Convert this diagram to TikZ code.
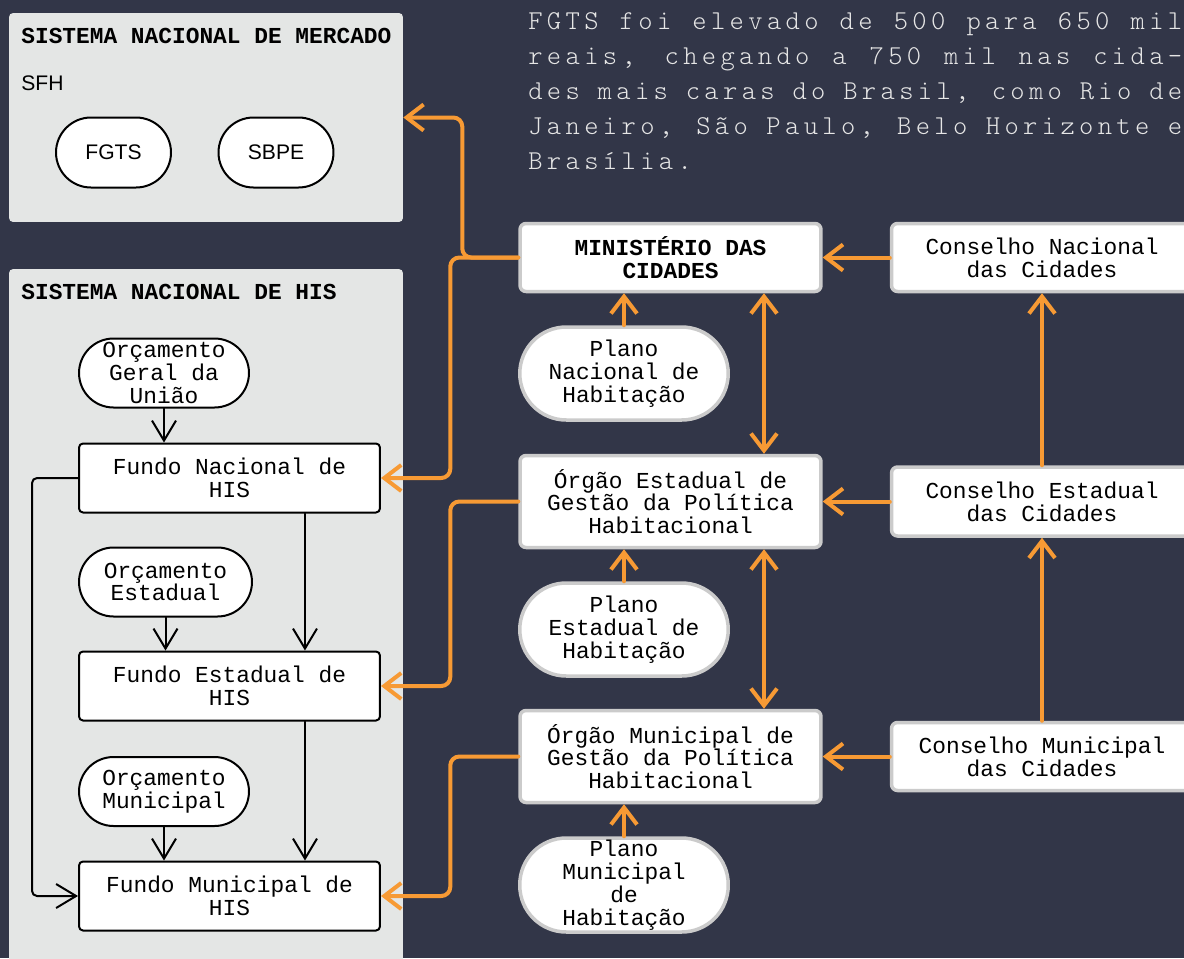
\documentclass[tikz,border=0pt]{standalone}
\usepackage{fontspec}
\usetikzlibrary{arrows.meta,calc,positioning}
\newfontfamily\boxfont{Liberation Mono}
\newfontfamily\sanslabel{Liberation Sans}
\newfontfamily\notefont[LetterSpace=16]{lmmonolt10-regular.otf}
\newcommand\noteline[1]{\makebox[13.08cm][s]{\spaceskip=0pt plus 1fil\relax #1}}
\definecolor{nightbg}{HTML}{323648}
\definecolor{panelgray}{HTML}{E4E6E5}
\definecolor{linkorange}{HTML}{F79A34}
\definecolor{rimgray}{HTML}{CBCBCB}
\definecolor{notewhite}{HTML}{E6E6E6}

\begin{document}
\begin{tikzpicture}[x=0.02cm,y=-0.02cm,line cap=round,line join=round,
    notetext/.style={anchor=base west,inner sep=0pt,text=notewhite,
      font=\notefont\fontsize{15.5}{15.5}\selectfont},
    boxtext/.style={font=\boxfont\fontsize{13}{13}\selectfont,align=center,inner sep=0pt},
    panel/.style={fill=panelgray,rounded corners=0.08cm,inner sep=0pt,minimum width=7.88cm},
    paneltitle/.style={font=\boxfont\bfseries\fontsize{13}{13}\selectfont,anchor=base west,inner sep=0pt},
    fundbox/.style={boxtext,draw=black,line width=0.04cm,fill=white,rounded corners=0.08cm,
      minimum width=6.02cm,minimum height=1.38cm},
    budget/.style={boxtext,draw=black,line width=0.04cm,fill=white,rounded corners=0.69cm,
      minimum height=1.38cm},
    mercbox/.style={draw=black,line width=0.04cm,fill=white,rounded corners=0.7cm,inner sep=0pt,
      minimum width=2.3cm,minimum height=1.4cm,font=\sanslabel\fontsize{12}{12}\selectfont},
    organ/.style={boxtext,draw=rimgray,line width=0.07cm,fill=white,rounded corners=0.12cm,
      minimum width=6.02cm},
    plan/.style={boxtext,draw=rimgray,line width=0.07cm,fill=white,rounded corners=0.93cm,
      minimum width=4.17cm,minimum height=1.86cm},
    orangelink/.style={draw=linkorange,line width=0.08cm,rounded corners=0.18cm,
      -{Straight Barb[length=0.34cm,width=0.52cm]}},
    blacklink/.style={draw=black,line width=0.04cm,rounded corners=0.1cm,
      -{Straight Barb[length=0.4cm,width=0.48cm]}}]

  \useasboundingbox (0,0) rectangle (1184,958);
  \clip (0,0) rectangle (1184,958);
  \fill[nightbg] (0,0) rectangle (1184,958);

  % justified text running in from above
  \foreach \yy/\txt in {29/{FGTS foi elevado de 500 para 650 mil},
      64/{reais, chegando a 750 mil nas cida-},
      99/{des mais caras do Brasil, como Rio de},
      134/{Janeiro, São Paulo, Belo Horizonte e}}{
    \node[notetext] (note\yy) at (528,\yy) {\noteline{\txt}};
  }
  \node[notetext] (note169) at (528,169) {Brasília.};

  % market system
  \node[panel,minimum height=4.18cm] (mercado) at (206,117.5) {};
  \node[paneltitle] (mercadotitle) at (21,43) {SISTEMA NACIONAL DE MERCADO};
  \node[anchor=base west,inner sep=0pt,font=\sanslabel\fontsize{12}{12}\selectfont]
    (sfh) at (21,90) {SFH};
  \node[mercbox] (fgts) at (113.5,152.5) {FGTS};
  \node[mercbox] (sbpe) at (276,152.5) {SBPE};

  % social housing system
  \node[panel,minimum height=14.4cm] (his) at (206,629) {};
  \node[paneltitle] (histitle) at (21,299) {SISTEMA NACIONAL DE HIS};
  \node[budget,minimum width=3.4cm] (orcuniao) at (164,373) {Orçamento\\Geral da\\União};
  \node[fundbox] (fundnac) at (229.5,478) {Fundo Nacional de\\HIS};
  \node[budget,minimum width=3.46cm] (orcest) at (165.5,582) {Orçamento\\Estadual};
  \node[fundbox] (fundest) at (229.5,686) {Fundo Estadual de\\HIS};
  \node[budget,minimum width=3.4cm] (orcmun) at (164,791.5) {Orçamento\\Municipal};
  \node[fundbox] (fundmun) at (229.5,896) {Fundo Municipal de\\HIS};

  % federal, state and municipal bodies
  \node[organ,minimum height=1.36cm,font=\boxfont\bfseries\fontsize{13}{13}\selectfont]
    (ministerio) at (670.5,257.5) {MINISTÉRIO DAS\\CIDADES};
  \node[organ,minimum height=1.36cm] (consnac) at (1042,257.5) {Conselho Nacional\\das Cidades};
  \node[plan] (plannac) at (624,373.5) {Plano\\Nacional de\\Habitação};
  \node[organ,minimum height=1.84cm] (orgest) at (670.5,501.5) {Órgão Estadual de\\Gestão da Política\\Habitacional};
  \node[organ,minimum height=1.38cm] (consest) at (1042,501.5) {Conselho Estadual\\das Cidades};
  \node[plan] (planest) at (624,629.5) {Plano\\Estadual de\\Habitação};
  \node[organ,minimum height=1.84cm] (orgmun) at (670.5,756.5) {Órgão Municipal de\\Gestão da Política\\Habitacional};
  \node[organ,minimum height=1.36cm] (consmun) at (1042,756.5) {Conselho Municipal\\das Cidades};
  \node[plan,minimum height=1.88cm] (planmun) at (624,885) {Plano\\Municipal\\de\\Habitação};

  % funding flow inside the HIS system
  \draw[blacklink] (orcuniao.south) -- (orcuniao.south |- fundnac.north);
  \draw[blacklink] (orcest.south) -- (orcest.south |- fundest.north);
  \draw[blacklink] (orcmun.south) -- (orcmun.south |- fundmun.north);
  \draw[blacklink] ([xshift=1.51cm]fundnac.south) -- ([xshift=1.51cm]fundest.north);
  \draw[blacklink] ([xshift=1.51cm]fundest.south) -- ([xshift=1.51cm]fundmun.north);
  \draw[blacklink] (fundnac.west) -- ++(-46,0) |- (fundmun.west);

  % councils and plans
  \draw[orangelink] (consnac.west) -- (consnac.west -| ministerio.east);
  \draw[orangelink] (consest.west) -- (consest.west -| orgest.east);
  \draw[orangelink] (consmun.west) -- (consmun.west -| orgmun.east);
  \draw[orangelink] (consest.north) -- (consnac.south);
  \draw[orangelink] (consmun.north) -- (consest.south);
  \draw[orangelink] (plannac.north) -- (plannac.north |- ministerio.south);
  \draw[orangelink] (planest.north) -- (planest.north |- orgest.south);
  \draw[orangelink] (planmun.north) -- (planmun.north |- orgmun.south);
  \draw[orangelink,{Straight Barb[length=0.34cm,width=0.52cm]}-{Straight Barb[length=0.34cm,width=0.52cm]}]
    ([xshift=1.87cm]ministerio.south) -- ([xshift=1.87cm]orgest.north);
  \draw[orangelink,{Straight Barb[length=0.34cm,width=0.52cm]}-{Straight Barb[length=0.34cm,width=0.52cm]}]
    ([xshift=1.87cm]orgest.south) -- ([xshift=1.87cm]orgmun.north);

  % links out to the two systems
  \draw[orangelink] (ministerio.west) -- ++(-56,0) |- (mercado.east);
  \draw[orangelink] (ministerio.west) -- ++(-68,0) |- (fundnac.east);
  \draw[orangelink] (orgest.west) -- ++(-68,0) |- (fundest.east);
  \draw[orangelink] (orgmun.west) -- ++(-68,0) |- (fundmun.east);
\end{tikzpicture}
\end{document}
